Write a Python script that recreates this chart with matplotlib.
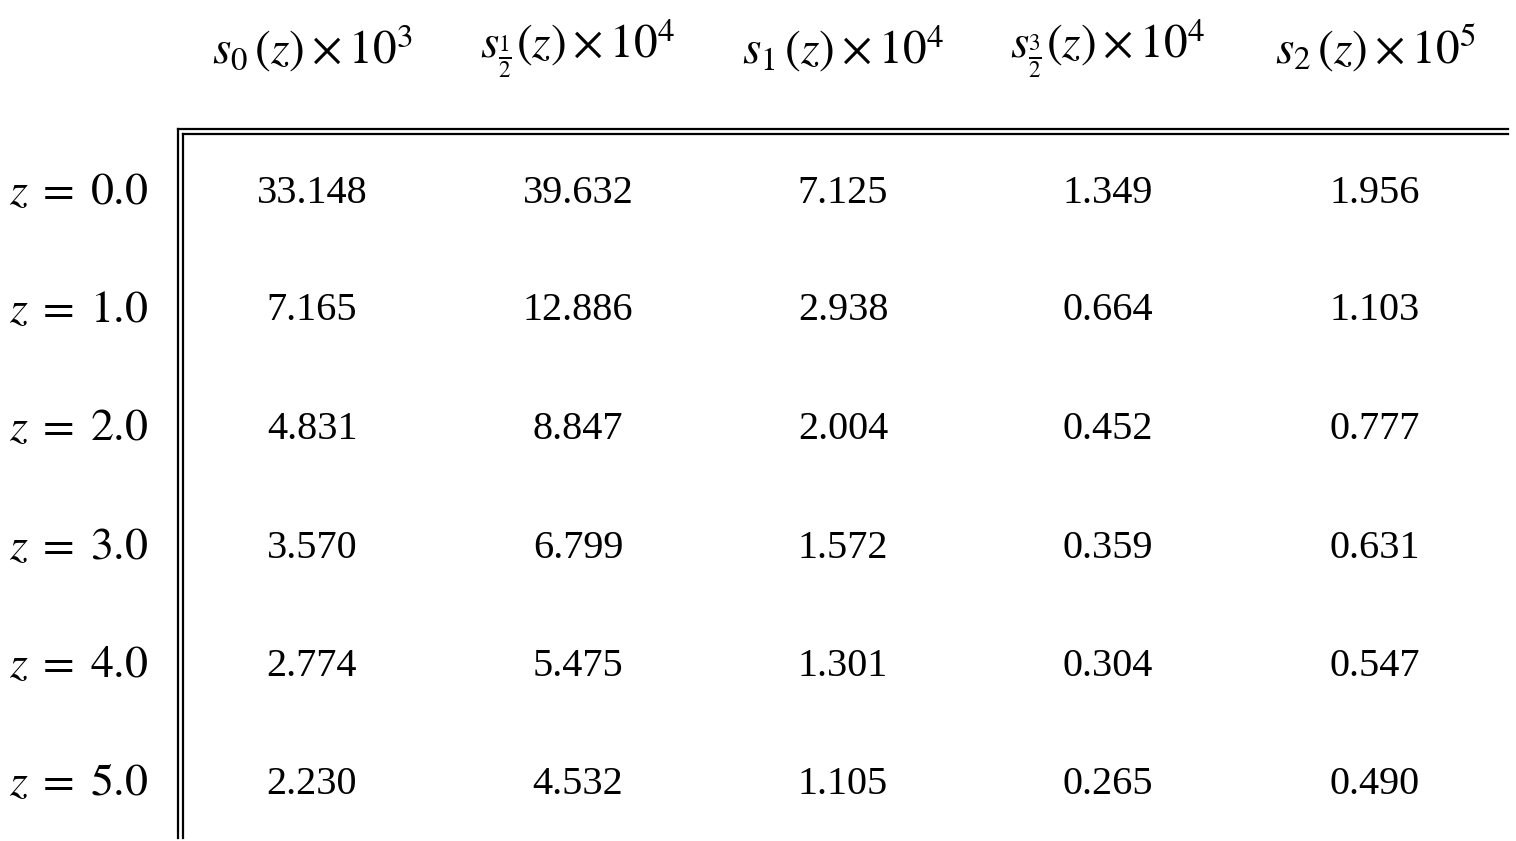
import matplotlib
matplotlib.use("Agg")
import matplotlib.pyplot as plt

plt.rcParams['mathtext.fontset'] = 'stix'
plt.rcParams['font.family'] = ['Liberation Serif', 'DejaVu Serif']

headers = [r'$s_0\,(z)\times10^3$', r'$s_{\frac{1}{2}}(z)\times 10^4$',
           r'$s_1\,(z)\times10^4$', r'$s_{\frac{3}{2}}(z)\times 10^4$',
           r'$s_2\,(z)\times10^5$']
rows = [r'$z\;=\;0.0$', r'$z\;=\;1.0$', r'$z\;=\;2.0$', r'$z\;=\;3.0$', r'$z\;=\;4.0$', r'$z\;=\;5.0$']
values = [
    ["33.148", "39.632", "7.125", "1.349", "1.956"],
    ["7.165", "12.886", "2.938", "0.664", "1.103"],
    ["4.831", "8.847", "2.004", "0.452", "0.777"],
    ["3.570", "6.799", "1.572", "0.359", "0.631"],
    ["2.774", "5.475", "1.301", "0.304", "0.547"],
    ["2.230", "4.532", "1.105", "0.265", "0.490"],
]

fig = plt.figure(figsize=(15.16, 8.41), dpi=100)
ax = fig.add_axes([0, 0, 1, 1])
ax.set_xlim(0, 1516); ax.set_ylim(841, 0); ax.axis('off')

colx = [312, 578, 843, 1108, 1375]
rowy = [193, 311, 429, 548, 666, 784]
for x, h in zip(colx, headers):
    ax.text(x, 48, h, ha='center', va='center', fontsize=34)
for y, r, vals in zip(rowy, rows, values):
    ax.text(148, y, r, ha='right', va='center', fontsize=33)
    for x, v in zip(colx, vals):
        ax.text(x, y, v, ha='center', va='center', fontsize=29)

lw = 1.6
ax.plot([178, 1508], [129, 129], color='black', lw=lw)
ax.plot([183, 1508], [134, 134], color='black', lw=lw)
ax.plot([178, 178], [129, 838], color='black', lw=lw)
ax.plot([183, 183], [134, 838], color='black', lw=lw)

fig.savefig("out.png", dpi=100)
